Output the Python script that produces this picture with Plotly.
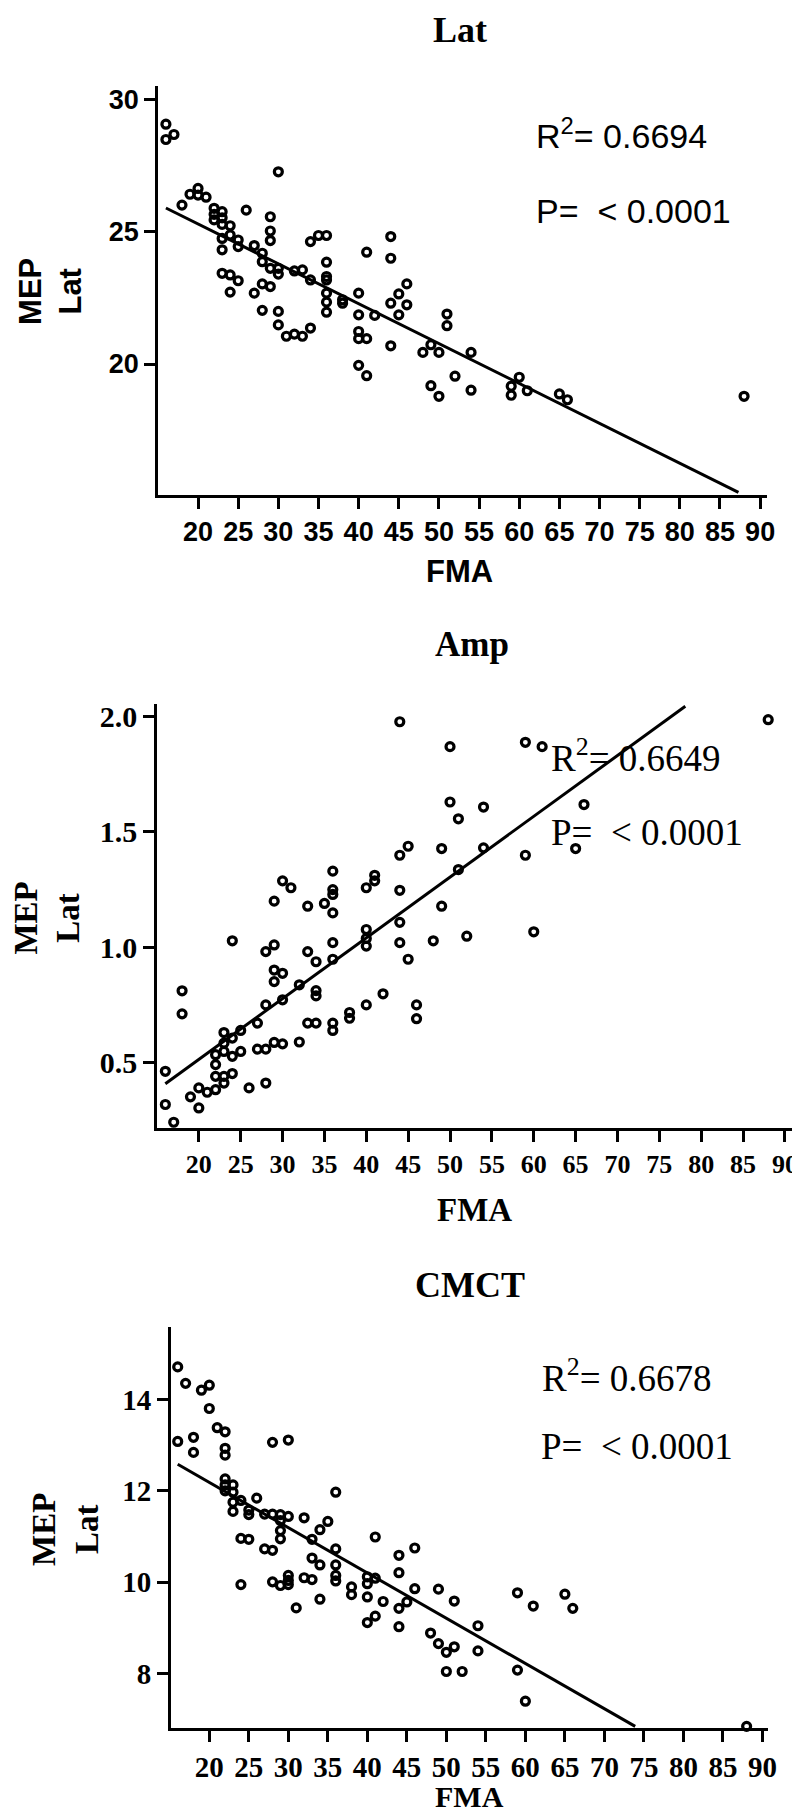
import plotly.graph_objects as go

W, H = 800, 1811

# ---------------- Data ----------------
# Panel 1: Lat
lat_fma = [16, 16, 17, 18, 19, 20, 20, 21,
           22, 22, 22,
           23, 23, 23, 23, 23, 23,
           24, 24, 24, 24,
           25, 25, 25,
           26,
           27, 27,
           28, 28, 28, 28,
           29, 29, 29, 29, 29,
           30, 30, 30, 30, 30,
           31, 32, 32, 33, 33,
           34, 34, 34, 35,
           36, 36, 36, 36, 36, 36, 36,
           38, 38,
           40, 40, 40, 40, 40,
           41, 41, 41,
           42,
           44, 44, 44, 44,
           45, 45,
           46, 46,
           48, 49, 49, 50, 50,
           51, 51, 52, 54, 54,
           59, 59, 60, 61, 65, 66, 88]
lat_val = [29.07, 28.49, 28.68, 26.01, 26.42, 26.64, 26.39, 26.31,
           25.89, 25.66, 25.45,
           25.76, 25.53, 25.28, 24.75, 24.32, 23.43,
           25.23, 24.88, 23.37, 22.72,
           24.69, 24.44, 23.15,
           25.82,
           24.48, 22.68,
           24.19, 23.87, 23.03, 22.03,
           25.57, 25.03, 24.67, 23.62, 22.93,
           27.27, 23.62, 23.40, 21.99, 21.48,
           21.05, 23.52, 21.13, 23.56, 21.05,
           24.63, 23.18, 21.36, 24.86,
           24.86, 23.85, 23.31, 23.18, 22.68, 22.34, 21.96,
           22.43, 22.30,
           22.68, 21.86, 21.23, 20.96, 19.95,
           24.23, 20.96, 19.56,
           21.84,
           24.82, 24.00, 22.30, 20.69,
           22.65, 21.86,
           23.03, 22.24,
           20.44, 20.73, 19.18, 20.44, 18.78,
           21.89, 21.45, 19.54, 20.44, 19.01,
           19.16, 18.82, 19.50, 18.99, 18.87, 18.65, 18.78]
lat_fit_x = [16, 87.3]
lat_fit_y = [25.9, 15.15]

# Panel 2: Amp
amp_fma = [16, 16, 17, 18, 18, 19, 20, 20, 21,
           22, 22, 22, 22,
           23, 23, 23, 23, 23,
           24, 24, 24, 24,
           25, 25, 26, 27, 27,
           28, 28, 28, 28,
           29, 29, 29, 29, 29,
           30, 30, 30, 30, 31,
           32, 32, 33, 33, 33,
           34, 34, 34, 34, 35,
           36, 36, 36, 36, 36, 36, 36, 36,
           38, 38,
           40, 40, 40, 40, 40,
           41, 41, 42,
           44, 44, 44, 44, 44,
           45, 45, 46, 46, 48,
           49, 49, 50, 50, 51, 51, 52,
           54, 54, 59, 59, 60, 61, 65, 66, 88]
amp_val = [0.462, 0.318, 0.241, 0.811, 0.711, 0.351, 0.390, 0.303, 0.371,
           0.382, 0.440, 0.491, 0.534,
           0.630, 0.584, 0.548, 0.440, 0.411,
           0.606, 0.527, 0.452, 1.028,
           0.639, 0.548, 0.390, 0.671, 0.558,
           0.558, 0.411, 0.750, 0.981,
           1.200, 1.010, 0.901, 0.851, 0.587,
           1.288, 0.887, 0.772, 0.581, 1.258,
           0.837, 0.589, 1.178, 0.981, 0.671,
           0.937, 0.812, 0.789, 0.671, 1.190,
           1.330, 1.250, 1.229, 1.149, 1.020, 0.948, 0.671, 0.639,
           0.717, 0.692,
           1.258, 1.077, 1.038, 1.005, 0.750,
           1.312, 1.288, 0.798,
           1.978, 1.399, 1.247, 1.108, 1.020,
           1.438, 0.948, 0.750, 0.690, 1.028,
           1.428, 1.178, 1.870, 1.630, 1.557, 1.337, 1.048,
           1.608, 1.431, 1.889, 1.399, 1.067, 1.870, 1.428, 1.619, 1.987]
amp_fit_x = [16, 78.1]
amp_fit_y = [0.408, 2.045]

# Panel 3: CMCT
cmct_fma = [16, 16, 17, 18, 18, 19, 20, 20, 21,
            22, 22, 22, 22, 22, 22,
            23, 23, 23, 23,
            24, 24, 24,
            25, 25, 25, 26,
            27, 27, 28, 28, 28, 28,
            29, 29, 29, 29, 29,
            30, 30, 30, 30, 30,
            31, 32, 32, 33, 33, 33,
            34, 34, 34, 35,
            36, 36, 36, 36, 36,
            38, 38,
            40, 40, 40, 40,
            41, 41, 41, 42,
            44, 44, 44, 44,
            45, 46, 46, 48,
            49, 49, 50, 50, 51, 51, 52,
            54, 54, 59, 59, 60, 61, 65, 66, 88]
cmct_val = [14.71, 13.08, 14.35, 13.17, 12.84, 14.20, 14.31, 13.80, 13.38,
            13.29, 12.93, 12.78, 12.26, 12.13, 12.00,
            12.13, 11.97, 11.75, 11.55,
            11.79, 10.96, 9.95,
            11.58, 11.48, 10.94, 11.84,
            11.49, 10.73, 11.49, 10.70, 13.06, 10.01,
            11.48, 11.35, 11.13, 10.95, 9.93,
            11.44, 13.11, 10.15, 10.04, 9.95,
            9.44, 11.41, 10.10, 10.06, 10.94, 10.53,
            11.15, 10.38, 9.63, 11.33,
            11.97, 10.73, 10.38, 10.15, 10.03,
            9.90, 9.73,
            10.12, 9.97, 9.68, 9.12,
            10.99, 10.09, 9.26, 9.58,
            10.59, 10.21, 9.43, 9.03,
            9.57, 9.86, 10.75, 8.89,
            9.85, 8.66, 8.47, 8.05, 9.59, 8.59, 8.05,
            9.05, 8.50, 9.77, 8.08, 7.40, 9.48, 9.74, 9.43, 6.85]
cmct_fit_x = [16, 73.9]
cmct_fit_y = [12.58, 6.85]

x_ticks = [20, 25, 30, 35, 40, 45, 50, 55, 60, 65, 70, 75, 80, 85, 90]
lat_ticks = [20, 25, 30]
amp_ticks = [0.5, 1.0, 1.5, 2.0]
cmct_ticks = [8, 10, 12, 14]

# ---------------- Layout helpers (pixel geometry) ----------------
def xd(p):
    return p / W

def yd(p):
    return 1 - p / H

SANS = "Liberation Sans"
SERIF = "Liberation Serif"

panels = [
    dict(x=lat_fma, y=lat_val, fx=lat_fit_x, fy=lat_fit_y,
         box=(152, 768, 74, 484), xr=[15.05, 90.9], yr=[15.05, 30.52],
         yt=lat_ticks, yfmt="d", font=SANS, xts=27, yts=27),
    dict(x=amp_fma, y=amp_val, fx=amp_fit_x, fy=amp_fit_y,
         box=(151, 794, 694, 1118), xr=[15.04, 90.97], yr=[0.218, 2.053],
         yt=amp_ticks, yfmt=".1f", font=SERIF, xts=26, yts=30),
    dict(x=cmct_fma, y=cmct_val, fx=cmct_fit_x, fy=cmct_fit_y,
         box=(165, 769, 1318, 1720), xr=[15.17, 90.75], yr=[6.81, 15.58],
         yt=cmct_ticks, yfmt="d", font=SERIF, xts=29, yts=29),
]

fig = go.Figure()
layout = dict(
    width=W, height=H, margin=dict(l=0, r=0, t=0, b=0),
    paper_bgcolor="white", plot_bgcolor="white", showlegend=False,
)

for i, p in enumerate(panels, start=1):
    sfx = "" if i == 1 else str(i)
    fig.add_trace(go.Scatter(
        x=p["x"], y=p["y"], mode="markers",
        marker=dict(symbol="circle-open", size=8, color="black",
                    line=dict(width=3.2, color="black")),
        xaxis="x" + sfx, yaxis="y" + sfx, cliponaxis=False,
    ))
    fig.add_trace(go.Scatter(
        x=p["fx"], y=p["fy"], mode="lines",
        line=dict(color="black", width=3),
        xaxis="x" + sfx, yaxis="y" + sfx, cliponaxis=False,
    ))
    l, r, t, b = p["box"]
    common = dict(showgrid=False, zeroline=False, showline=True,
                  linecolor="black", linewidth=3, ticks="outside",
                  ticklen=11, tickwidth=3, tickcolor="black")
    layout["xaxis" + sfx] = dict(
        domain=[xd(l), xd(r)], range=p["xr"], tickmode="array",
        tickvals=x_ticks, anchor="y" + sfx,
        tickfont=dict(family=p["font"], size=p["xts"], color="black",
                      weight="bold"), **common)
    layout["yaxis" + sfx] = dict(
        domain=[yd(b), yd(t)], range=p["yr"], tickmode="array",
        tickvals=p["yt"], tickformat=p["yfmt"], anchor="x" + sfx,
        tickfont=dict(family=p["font"], size=p["yts"], color="black",
                      weight="bold"), **common)

fig.update_layout(**layout)

def ann(text, px, py, family, size, bold=False, xanchor="center",
        angle=0, yanchor="middle"):
    fig.add_annotation(
        text=text, x=xd(px), y=yd(py), xref="paper", yref="paper",
        xanchor=xanchor, yanchor=yanchor, showarrow=False,
        textangle=angle,
        font=dict(family=family, size=size, color="black",
                  weight="bold" if bold else "normal"))

# Panel 1 texts
ann("Lat", 457, 18, SERIF, 36, bold=True)
ann("FMA", 457, 561, SANS, 31, bold=True)
ann("MEP<br>Lat", 43, 280, SANS, 31, bold=True, angle=-90)
ann("R<sup>2</sup>= 0.6694", 532, 122, SANS, 34, xanchor="left")
ann("P=  < 0.0001", 532, 199, SANS, 34, xanchor="left")

# Panel 2 texts
ann("Amp", 469, 634, SERIF, 35, bold=True)
ann("FMA", 472, 1201, SERIF, 33, bold=True)
ann("MEP<br>Lat", 40, 908, SERIF, 33, bold=True, angle=-90)
ann("R<sup>2</sup>= 0.6649", 547, 745, SERIF, 37, xanchor="left")
ann("P=  < 0.0001", 547, 822, SERIF, 37, xanchor="left")

# Panel 3 texts
ann("CMCT", 467, 1276, SERIF, 36, bold=True)
ann("FMA", 467, 1788, SERIF, 30, bold=True)
ann("MEP<br>Lat", 58, 1521, SERIF, 33, bold=True, angle=-90)
ann("R<sup>2</sup>= 0.6678", 538, 1367, SERIF, 37, xanchor="left")
ann("P=  < 0.0001", 537, 1438, SERIF, 37, xanchor="left")

fig.write_html("out.html")
